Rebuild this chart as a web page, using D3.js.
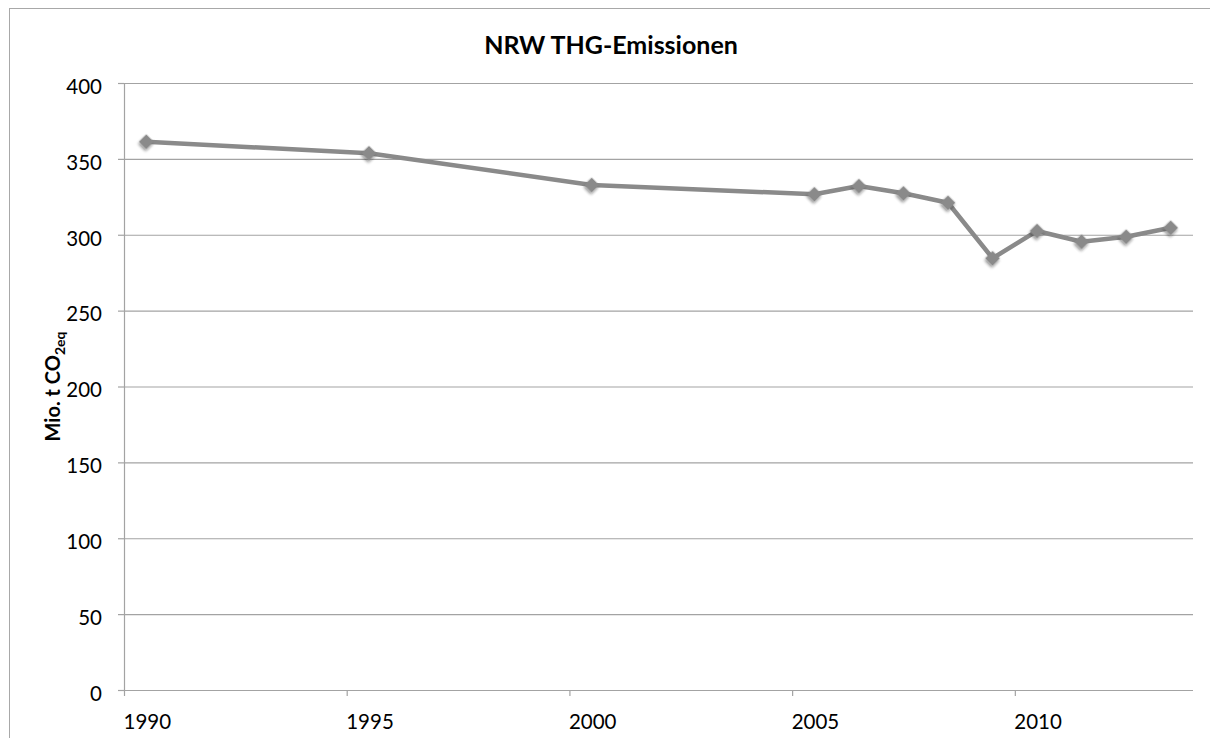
<!DOCTYPE html>
<html>
<head>
<meta charset="utf-8">
<script src="https://cdn.jsdelivr.net/npm/d3@7"></script>
<style>
  html, body { margin: 0; padding: 0; background: #fff; }
  svg { display: block; font-family: Lato, "Open Sans", "Liberation Sans", sans-serif; }
</style>
</head>
<body>
<svg id="chart" width="1210" height="738"></svg>
<script>
// ---- data ----
const years = [1990, 1995, 2000, 2005, 2006, 2007, 2008, 2009, 2010, 2011, 2012, 2013];
const emissions = [361.3, 353.7, 332.8, 326.7, 332.1, 327.3, 321.1, 284.5, 302.5, 295.4, 298.7, 304.6];
const xTickYears = [1990, 1995, 2000, 2005, 2010];
const yTickValues = [0, 50, 100, 150, 200, 250, 300, 350, 400];
const titleText = "NRW THG-Emissionen";

// ---- layout ----
const svg = d3.select("#chart");
const pLeft = 124, pRight = 1193, pTop = 83, pBottom = 690;
const x = d3.scaleLinear().domain([1990, 2014]).range([pLeft, pRight]);
const y = d3.scaleLinear().domain([0, 400]).range([pBottom, pTop]);
const gridColor = "#a3a3a3";
const seriesColor = "#8a8a8a";

// outer frame (extends beyond the visible area)
svg.append("rect")
  .attr("x", 9.5).attr("y", 8.5).attr("width", 1400).attr("height", 900)
  .attr("fill", "none").attr("stroke", "#a8a8a8").attr("stroke-width", 1);

// gridlines
const grid = svg.append("g").attr("transform", `translate(${pLeft},0)`)
  .call(d3.axisLeft(y).tickValues(yTickValues).tickSize(-(pRight - pLeft)).tickFormat(""));
grid.select(".domain").remove();
grid.selectAll(".tick line").attr("stroke", gridColor).attr("stroke-width", 1.2);

// y axis with outward ticks and labels
const yAxis = svg.append("g").attr("transform", `translate(${pLeft},0)`)
  .call(d3.axisLeft(y).tickValues(yTickValues).tickSizeInner(6).tickSizeOuter(0).tickPadding(16));
yAxis.select(".domain").attr("stroke", gridColor).attr("stroke-width", 1.2);
yAxis.selectAll(".tick line").attr("stroke", gridColor).attr("stroke-width", 1.2);
yAxis.selectAll(".tick text")
  .attr("font-size", 20.5).attr("fill", "#000")
  .attr("font-family", "Lato, 'Open Sans', sans-serif")
  .attr("dy", "0.5em");

// x axis
const xAxis = svg.append("g").attr("transform", `translate(0,${pBottom})`)
  .call(d3.axisBottom(x).tickValues(xTickYears).tickFormat(d3.format("d"))
        .tickSizeInner(6).tickSizeOuter(0).tickPadding(18));
xAxis.select(".domain").attr("stroke", gridColor).attr("stroke-width", 1.2)
  .attr("d", `M${pLeft - 6},0.5H${pRight}`);
xAxis.selectAll(".tick line").attr("stroke", gridColor).attr("stroke-width", 1.2);
xAxis.selectAll(".tick text")
  .attr("font-size", 20.5).attr("fill", "#000")
  .attr("font-family", "Lato, 'Open Sans', sans-serif")
  .attr("text-anchor", "start").attr("dx", -1);

// title
svg.append("text")
  .attr("x", 611).attr("y", 54)
  .attr("text-anchor", "middle")
  .attr("font-size", 25).attr("font-weight", "bold").attr("fill", "#000")
  .text(titleText);

// y axis title with subscript
const yTitle = svg.append("text")
  .attr("transform", `translate(60,${(pTop + pBottom) / 2}) rotate(-90)`)
  .attr("text-anchor", "middle")
  .attr("font-size", 20).attr("font-weight", "bold").attr("fill", "#000");
yTitle.append("tspan").text("Mio. t CO");
yTitle.append("tspan").attr("font-size", 14).attr("dy", 5).text("2eq");

// marker shadow filter
const defs = svg.append("defs");
const f = defs.append("filter").attr("id", "soft").attr("x", "-50%").attr("y", "-50%")
  .attr("width", "200%").attr("height", "200%");
f.append("feGaussianBlur").attr("in", "SourceAlpha").attr("stdDeviation", 1.8).attr("result", "b");
f.append("feOffset").attr("in", "b").attr("dx", 0.5).attr("dy", 1.5).attr("result", "o");
f.append("feComponentTransfer").attr("in", "o").attr("result", "s")
  .append("feFuncA").attr("type", "linear").attr("slope", 0.45);
const m = f.append("feMerge");
m.append("feMergeNode").attr("in", "s");
m.append("feMergeNode").attr("in", "SourceGraphic");

const pts = years.map((yr, i) => ({ year: yr, value: emissions[i] }));

// line
svg.append("path")
  .datum(pts)
  .attr("fill", "none")
  .attr("stroke", seriesColor)
  .attr("stroke-width", 4.5)
  .attr("stroke-linejoin", "round")
  .attr("d", d3.line().x(d => x(d.year + 0.5)).y(d => y(d.value)));

// markers
svg.append("g").selectAll("path")
  .data(pts).join("path")
  .attr("d", d3.symbol(d3.symbolSquare, 110)())
  .attr("transform", d => `translate(${x(d.year + 0.5)},${y(d.value)}) rotate(45)`)
  .attr("fill", seriesColor)
  .attr("filter", "url(#soft)");
</script>
</body>
</html>
